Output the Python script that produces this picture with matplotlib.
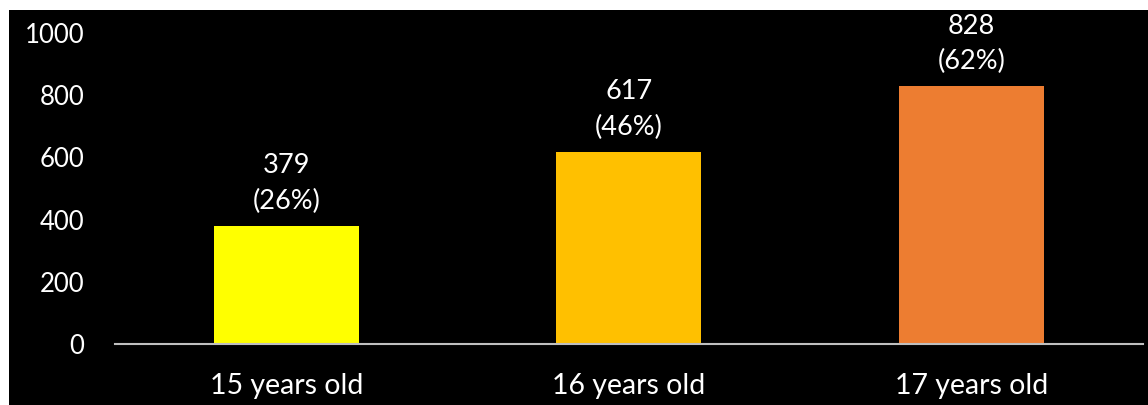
import matplotlib
matplotlib.use("Agg")
import matplotlib.pyplot as plt

categories = ["15 years old", "16 years old", "17 years old"]
values = [379, 617, 828]
percents = ["26%", "46%", "62%"]
colors = ["#FFFF00", "#FFC000", "#ED7D31"]
yticks = [0, 200, 400, 600, 800, 1000]

plt.rcParams['font.family'] = ['Lato', 'DejaVu Sans']

fig = plt.figure(figsize=(11.48, 4.05), dpi=100, facecolor="white")
# black chart area with thin white margins (left/top)
bg = fig.add_axes([9/1148, 0, 1 - 9/1148, (405 - 10) / 405], zorder=-1)
bg.set_facecolor("black")
bg.set_xticks([]); bg.set_yticks([])
for s in bg.spines.values():
    s.set_visible(False)

ax = fig.add_axes([115/1148, 61/405, 1027.5/1148, 311/405], zorder=1)
ax.set_facecolor("none")
x = list(range(len(categories)))
bars = ax.bar(x, values, width=0.423, color=colors, zorder=2)
ax.set_xlim(-0.5, len(categories) - 0.5)
ax.set_ylim(0, 1000)
ax.set_yticks(yticks)
ax.set_xticks(x)
ax.set_xticklabels(categories)
ax.tick_params(axis="both", length=0, labelsize=18.5, colors="white")
ax.tick_params(axis="y", pad=22)
ax.tick_params(axis="x", pad=21, labelsize=20.5)
for s in ["top", "right", "left"]:
    ax.spines[s].set_visible(False)
ax.spines["bottom"].set_color("#bfbfbf")
ax.spines["bottom"].set_linewidth(1.5)

for xi, v, p in zip(x, values, percents):
    ax.annotate(f"{v}\n({p})", (xi, v), xytext=(0, 9), textcoords="offset points",
                ha="center", va="bottom", color="white", fontsize=19.5,
                linespacing=1.5, annotation_clip=False)

fig.savefig("out.png", dpi=100, facecolor="white")
